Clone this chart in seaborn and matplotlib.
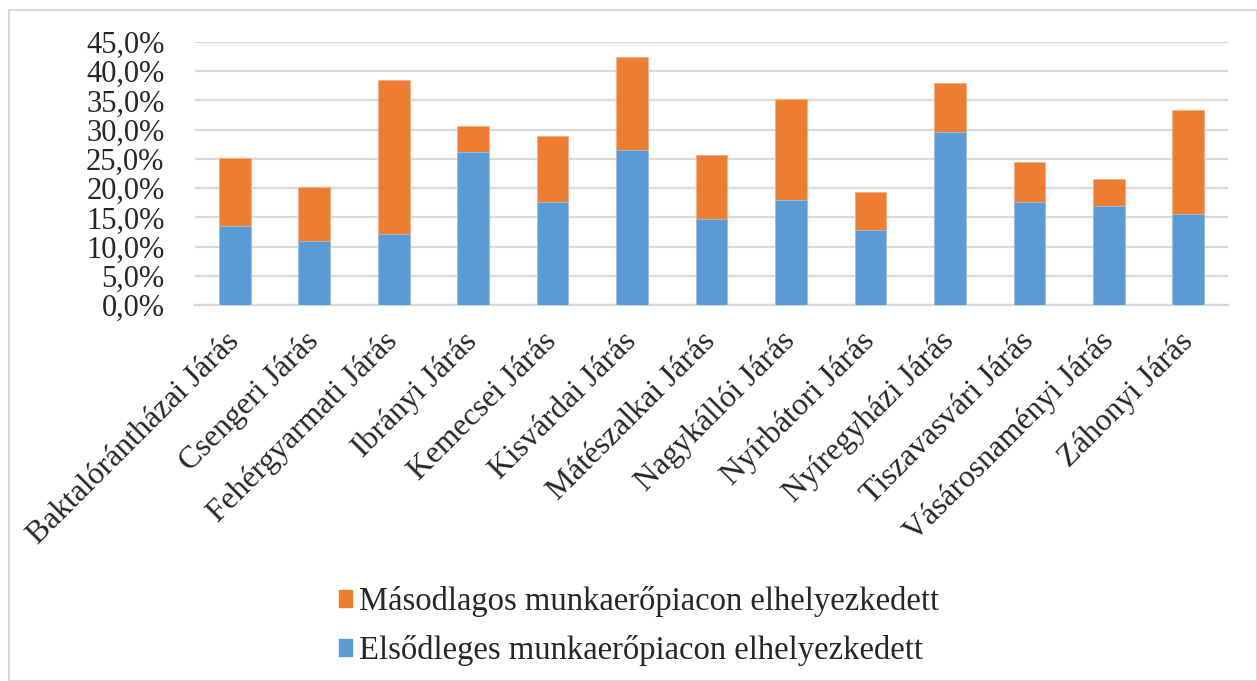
import matplotlib
matplotlib.use("Agg")
import matplotlib.pyplot as plt
import matplotlib.patches as mpatches
import seaborn as sns
import pandas as pd

jarasok = ["Baktalórántházai Járás", "Csengeri Járás", "Fehérgyarmati Járás",
           "Ibrányi Járás", "Kemecsei Járás", "Kisvárdai Járás",
           "Mátészalkai Járás", "Nagykállói Járás", "Nyírbátori Járás",
           "Nyíregyházi Járás", "Tiszavasvári Járás", "Vásárosnaményi Járás",
           "Záhonyi Járás"]
elsodleges = [13.6, 11.0, 12.1, 26.2, 17.7, 26.5, 14.7, 17.9, 12.8, 29.6, 17.6, 16.9, 15.5]
masodlagos = [11.6, 9.2, 26.4, 4.5, 11.3, 15.9, 11.0, 17.4, 6.5, 8.4, 6.8, 4.6, 17.8]

label_masod = "Másodlagos munkaerőpiacon elhelyezkedett"
label_elso = "Elsődleges munkaerőpiacon elhelyezkedett"
blue = "#5B9BD5"
orange = "#ED7D31"

df = pd.DataFrame({"jaras": jarasok, "elso": elsodleges, "masod": masodlagos})
df["ossz"] = df["elso"] + df["masod"]

sns.set_style("white")
plt.rcParams["font.family"] = ["Liberation Serif", "DejaVu Serif"]

fig = plt.figure(figsize=(12.57, 6.81), dpi=100)
ax = fig.add_axes([0.1551, 0.5521, 0.977 - 0.1551, 0.9383 - 0.5521])

# stacked: total in orange, primary over it in blue
sns.barplot(data=df, x="jaras", y="ossz", color=orange, width=0.4,
            edgecolor="#F4B183", linewidth=0.6, saturation=1, ax=ax, zorder=3)
sns.barplot(data=df, x="jaras", y="elso", color=blue, width=0.4,
            edgecolor="#9DC3E6", linewidth=0.6, saturation=1, ax=ax, zorder=4)

ax.set_ylim(0, 45)
ax.set_yticks(range(0, 50, 5))
ax.set_yticklabels([f"{v},0%" for v in range(0, 50, 5)], fontsize=22)
ax.set_xlabel("")
ax.set_ylabel("")
ax.yaxis.grid(True, color="#D9D9D9", linewidth=1.6, zorder=0)
ax.set_axisbelow(True)
for s in ["top", "right", "left"]:
    ax.spines[s].set_visible(False)
ax.spines["bottom"].set_color("#D9D9D9")
ax.spines["bottom"].set_linewidth(1.6)
ax.tick_params(axis="both", length=0)
ax.tick_params(axis="y", pad=22)
ax.tick_params(axis="x", pad=23)
plt.setp(ax.get_xticklabels(), rotation=45, ha="right", va="center",
         rotation_mode="anchor", fontsize=22.8)

handles = [mpatches.Patch(color=orange, label=label_masod),
           mpatches.Patch(color=blue, label=label_elso)]
fig.legend(handles=handles, loc="center left", bbox_to_anchor=(0.2697, 0.0806),
           frameon=False, fontsize=23.5, handlelength=0.4, handleheight=0.4,
           handletextpad=0.2, labelspacing=0.55, borderaxespad=0, borderpad=0)

fig.patches.append(mpatches.Rectangle((0.007, 0.0), 0.993, 0.985, transform=fig.transFigure,
                                      fill=False, edgecolor="#D9D9D9", linewidth=1.5))

fig.savefig("out.png", dpi=100)
